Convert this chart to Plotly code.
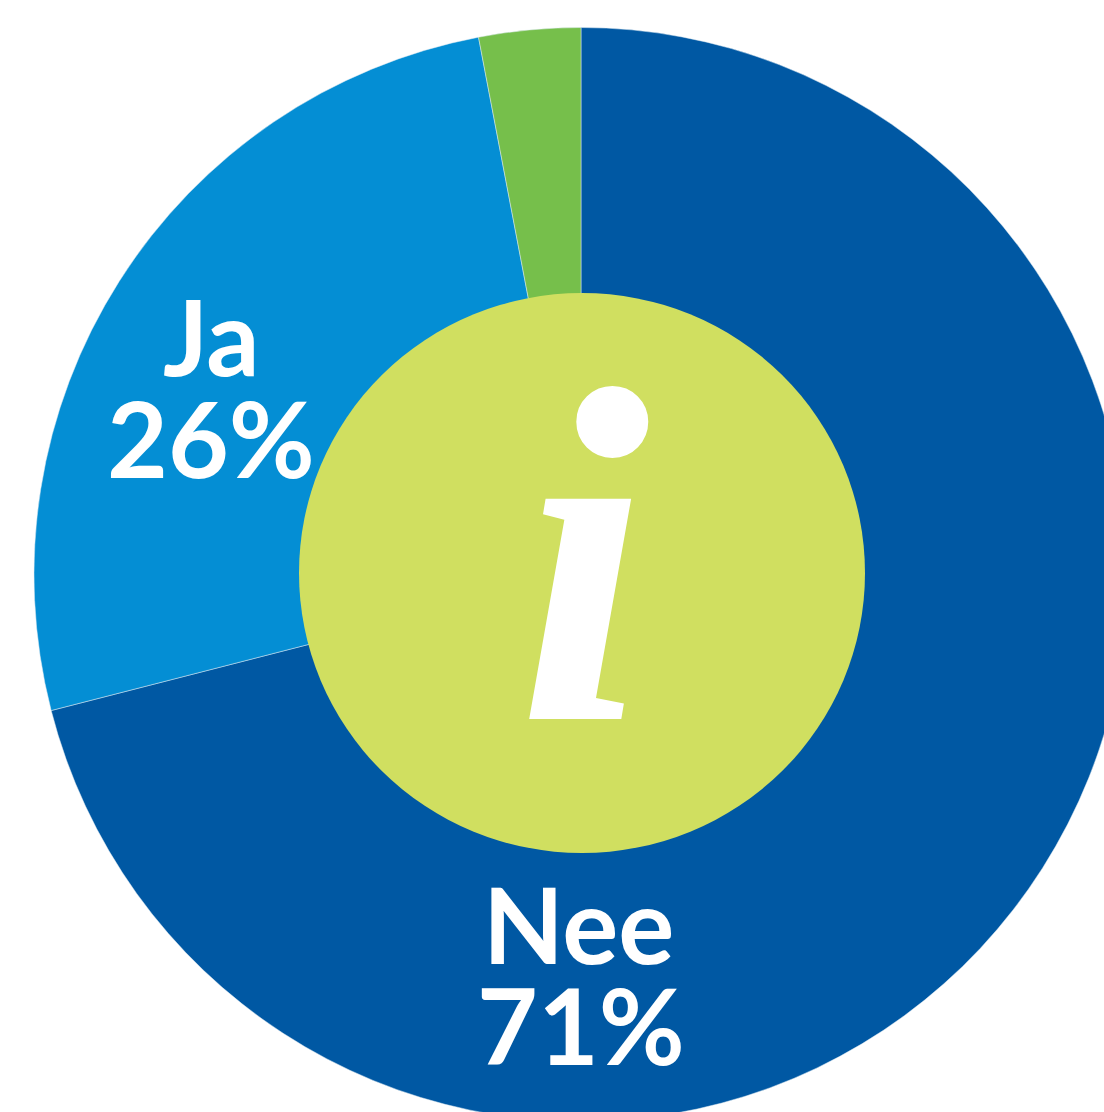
import plotly.graph_objects as go

labels = ["Nee", "Ja", "Overig"]
values = [71, 26, 3]
colors = ["#0058A3", "#048ED4", "#76BF4B"]
lime = "#D0DF60"

W, H = 1162, 1148
cx, cy, R = 581, 574.5, 547
rx, ry = 283, 280

fig = go.Figure(go.Pie(
    labels=labels, values=values, sort=False, direction="clockwise", rotation=0,
    marker=dict(colors=colors, line=dict(width=0.5, color="#dfeaf2")),
    textinfo="none", hoverinfo="label+percent", showlegend=False,
    domain=dict(x=[(cx - R) / W, (cx + R) / W], y=[1 - (cy + R) / H, 1 - (cy - R) / H]),
))

fig.add_shape(type="circle", xref="paper", yref="paper",
              x0=(cx + 1 - rx) / W, x1=(cx + 1 + rx) / W,
              y0=1 - (573 + ry) / H, y1=1 - (573 - ry) / H,
              fillcolor=lime, line_width=0)

def note(text, x, y, size=105, family="Lato", **font):
    fig.add_annotation(text=text, xref="paper", yref="paper", x=x / W, y=1 - y / H,
                       showarrow=False, xanchor="center", yanchor="middle",
                       font=dict(family=family, size=size, color="white", **font))

note("Ja", 211, 335, weight=700)
note("26%", 211, 437, weight=700)
note("Nee", 578, 923, weight=700)
note("71%", 581, 1024, weight=700)
note("i", 585, 557, size=480, family="Liberation Serif", weight=700, style="italic")

fig.update_layout(width=W, height=H, margin=dict(l=0, r=0, t=0, b=0),
                  paper_bgcolor="white", plot_bgcolor="white")

post = """
document.body.style.margin = '0';
document.documentElement.style.overflow = 'hidden';
document.body.style.overflow = 'hidden';
"""
fig.write_html("out.html", post_script=post)
